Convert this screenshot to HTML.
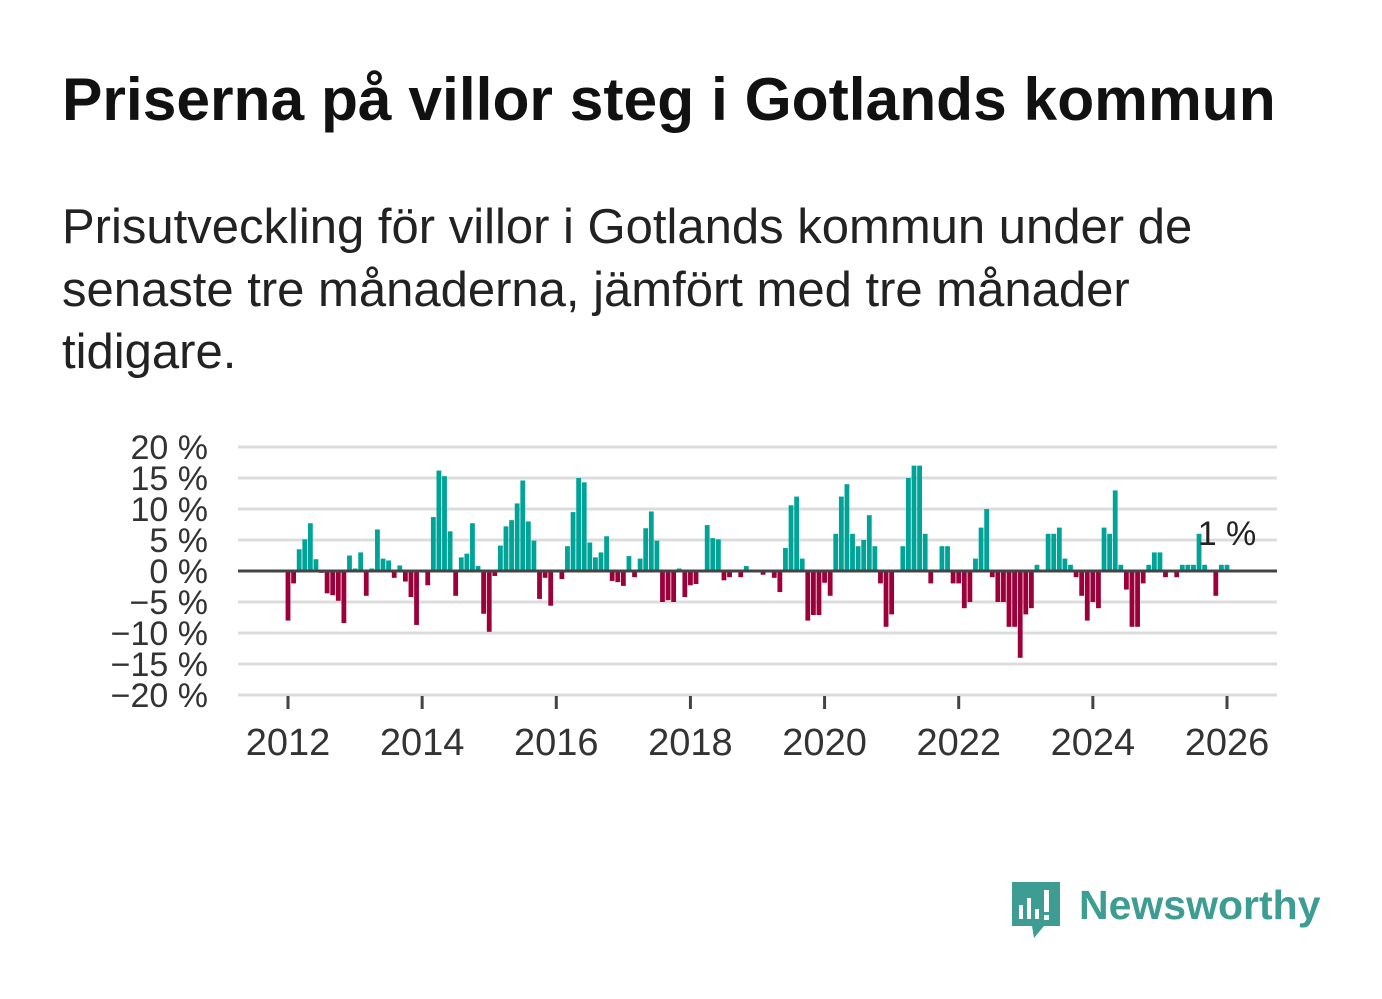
<!DOCTYPE html>
<html><head><meta charset="utf-8"><style>
body{margin:0;width:1382px;height:999px;background:#fff;font-family:"Liberation Sans",sans-serif;overflow:hidden;position:relative}
#title{position:absolute;left:62px;top:64px;font-size:60.5px;font-weight:bold;color:#111;white-space:nowrap;letter-spacing:0px}
#sub{position:absolute;left:62px;top:196px;font-size:49px;line-height:62.5px;color:#222;white-space:nowrap}
svg{position:absolute;left:0;top:0}
</style></head><body>
<div id="title">Priserna på villor steg i Gotlands kommun</div>
<div id="sub">Prisutveckling för villor i Gotlands kommun under de<br>senaste tre månaderna, jämfört med tre månader<br>tidigare.</div>
<svg id="chart" width="1382" height="999"></svg>
<script>
const yTicks=[20,15,10,5,0,-5,-10,-15,-20];
const yTickLabels=["20 %","15 %","10 %","5 %","0 %","−5 %","−10 %","−15 %","−20 %"];
const xTickYears=[2012,2014,2016,2018,2020,2022,2024,2026];
const startYear=2012;
const values=[
-8,-2,3.5,5.1,7.7,1.9,-0.3,-3.6,-3.9,-4.8,-8.4,2.5,
0.4,3,-4,0.4,6.7,2,1.7,-1.1,0.9,-1.7,-4.2,-8.7,
0,-2.3,8.7,16.2,15.3,6.4,-4,2.2,2.8,7.7,0.8,-6.9,
-9.8,-0.8,4.1,7.2,8.2,10.9,14.6,8,4.9,-4.5,-1.1,-5.6,
0,-1.3,4,9.5,15,14.3,4.6,2.2,3,5.6,-1.6,-1.8,
-2.4,2.4,-1,2,6.9,9.6,4.9,-5,-4.7,-5,0.4,-4.2,
-2.3,-2.1,0,7.4,5.3,5.1,-1.5,-1,0,-1,0.8,0,
0,-0.6,0,-1.1,-3.4,3.7,10.6,12,2,-8,-7.1,-7.1,
-1.9,-4,6,12,14,6,4,5,9,4,-2,-9,
-7,0,4,15,17,17,6,-2,0,4,4,-2,
-2,-6,-5,2,7,10,-1,-5,-5,-9,-9,-14,
-7,-6,1,0,6,6,7,2,1,-1,-4,-8,
-5,-6,7,6,13,1,-3,-9,-9,-2,1,3,
3,-1,0,-1,1,1,1,6,1,0,-4,1,
1];
const lastLabel="1 %";
const NS="http://www.w3.org/2000/svg";
const svg=document.getElementById('chart');
const x=m=>288+m*(1227-288)/168;
const y=v=>571-v*6.2;
function mk(t,a,p){const e=document.createElementNS(NS,t);for(const k in a)e.setAttribute(k,a[k]);(p||svg).appendChild(e);return e;}
yTicks.forEach((t,i)=>{
 if(t!==0){const g=mk('line',{x1:238,x2:1277,y1:y(t),y2:y(t),stroke:'#dcdcdc','stroke-width':3});
 
 }
 const l=mk('text',{x:208,y:y(t)+12,'text-anchor':'end','font-size':34,fill:'#333','font-family':'Liberation Sans, sans-serif'});
 l.textContent=yTickLabels[i];
 
 
});
values.forEach((v,i)=>{
 const cx=x(i);
 const r=mk('rect',{x:cx-2.4,width:4.8,y:Math.min(y(v),571),height:Math.abs(y(v)-571),fill:v>=0?'#00a398':'#9b003b'});
 
 
});
const z=mk('line',{x1:238,x2:1277,y1:571,y2:571,stroke:'#444','stroke-width':3});


xTickYears.forEach(yr=>{
 const cx=x((yr-startYear)*12);
 const t=mk('line',{x1:cx,x2:cx,y1:696,y2:709,stroke:'#444','stroke-width':3});
 
 
 const l=mk('text',{x:cx,y:755,'text-anchor':'middle','font-size':38,fill:'#333','font-family':'Liberation Sans, sans-serif'});
 l.textContent=yr;
 
 
});
const ll=mk('text',{x:x(values.length-1),y:545,'text-anchor':'middle','font-size':34,fill:'#222','font-family':'Liberation Sans, sans-serif'});
ll.textContent=lastLabel;


</script>
<svg width="1382" height="999">
<path d="M1012 882h48v44h-16l-10 12l-2-12h-20z" fill="#3d9d92"/>
<rect x="1019" y="905" width="4" height="14" fill="#fff"/>
<rect x="1027" y="898" width="4" height="21" fill="#fff"/>
<rect x="1035" y="909" width="4" height="10" fill="#fff"/>
<rect x="1044" y="890" width="5" height="22" fill="#fff"/>
<rect x="1044" y="915" width="5" height="5" fill="#fff"/>
<text x="1079" y="919" font-size="41" font-weight="bold" fill="#3d9d92" font-family="Liberation Sans, sans-serif">Newsworthy</text>
</svg>
</body></html>
